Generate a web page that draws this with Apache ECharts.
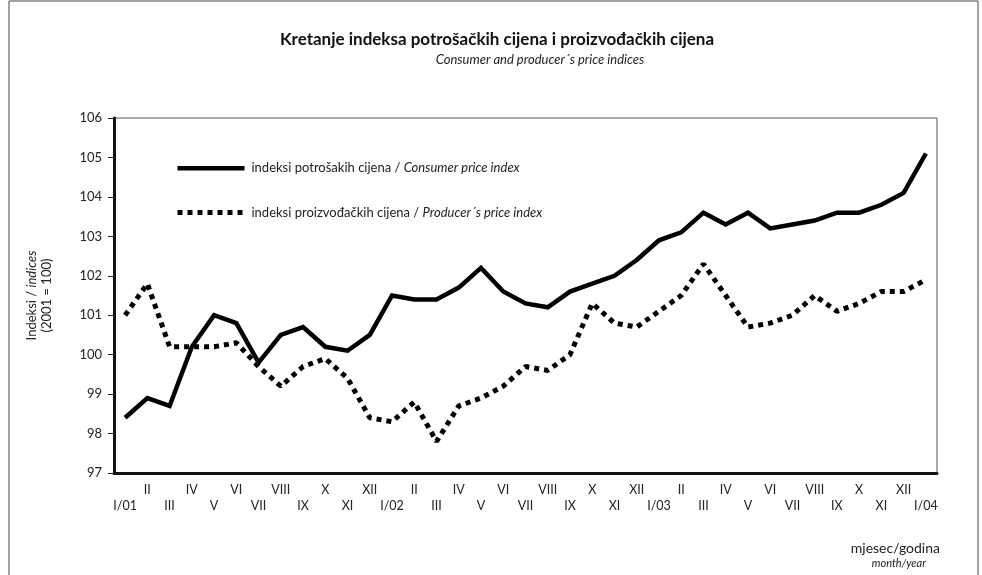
<!DOCTYPE html>
<html>
<head>
<meta charset="utf-8">
<script src="https://cdn.jsdelivr.net/npm/echarts@6/dist/echarts.min.js"></script>
<style>
  html, body { margin: 0; padding: 0; background: #fff; }
  #chart { width: 982px; height: 575px; }
</style>
</head>
<body>
<div id="chart"></div>
<script>
// months, I/01 .. I/04
var months = ['I/01', 'II', 'III', 'IV', 'V', 'VI', 'VII', 'VIII', 'IX', 'X', 'XI', 'XII',
  'I/02', 'II', 'III', 'IV', 'V', 'VI', 'VII', 'VIII', 'IX', 'X', 'XI', 'XII',
  'I/03', 'II', 'III', 'IV', 'V', 'VI', 'VII', 'VIII', 'IX', 'X', 'XI', 'XII',
  'I/04']

var consumerIdx = [98.4, 98.9, 98.7, 100.2, 101.0, 100.8, 99.8, 100.5, 100.7, 100.2, 100.1, 100.5,
  101.5, 101.4, 101.4, 101.7, 102.2, 101.6, 101.3, 101.2, 101.6, 101.8, 102.0, 102.4,
  102.9, 103.1, 103.6, 103.3, 103.6, 103.2, 103.3, 103.4, 103.6, 103.6, 103.8, 104.1,
  105.1]

var producerIdx = [101.0, 101.8, 100.2, 100.2, 100.2, 100.3, 99.7, 99.2, 99.7, 99.9, 99.4, 98.4,
  98.3, 98.8, 97.8, 98.7, 98.9, 99.2, 99.7, 99.6, 100.0, 101.3, 100.8, 100.7,
  101.1, 101.5, 102.3, 101.5, 100.7, 100.8, 101.0, 101.5, 101.1, 101.3, 101.6, 101.6,
  101.9]

var yTicks = [97, 98, 99, 100, 101, 102, 103, 104, 105, 106]

var seriesNames = ['indeksi potrošakih cijena', 'indeksi proizvođačkih cijena']
var seriesNamesEn = ['Consumer price index', 'Producer´s price index']

var font = 'Lato, "Open Sans", sans-serif'
var ink = '#111'

var solidLine = { color: '#000', width: 4.5, join: 'miter' }
var dotLine = { color: '#000', width: 5, type: [5, 5], cap: 'butt' }

var chart = echarts.init(document.getElementById('chart'))
chart.setOption({
  animation: false,
  textStyle: { fontFamily: font, color: ink },
  title: [
    {
      text: 'Kretanje indeksa potrošačkih cijena i proizvođačkih cijena',
      left: 497, top: 31, textAlign: 'center', padding: 0,
      textStyle: { fontFamily: font, fontSize: 17, fontWeight: 'bold', color: ink }
    },
    {
      text: 'Consumer and producer´s price indices',
      left: 540, top: 53, textAlign: 'center', padding: 0,
      textStyle: { fontFamily: font, fontSize: 13, fontStyle: 'italic', fontWeight: 'normal', color: '#222' }
    },
    {
      text: 'mjesec/godina',
      left: 940, top: 541, textAlign: 'right', padding: 0,
      textStyle: { fontFamily: font, fontSize: 14, fontWeight: 'normal', color: '#222' }
    },
    {
      text: 'month/year',
      left: 926, top: 558, textAlign: 'right', padding: 0,
      textStyle: { fontFamily: font, fontSize: 11, fontStyle: 'italic', fontWeight: 'normal', color: '#222' }
    }
  ],
  graphic: [
    {
      type: 'rect', silent: true,
      shape: { x: 9, y: 1, width: 969, height: 600 },
      style: { fill: 'none', stroke: '#444', lineWidth: 1 }
    }
  ],
  legend: {
    orient: 'vertical',
    left: 170, top: 156,
    itemWidth: 67, itemHeight: 18,
    itemGap: 30,
    data: [
      { name: seriesNames[0], lineStyle: solidLine },
      { name: seriesNames[1], lineStyle: dotLine }
    ],
    itemStyle: { color: 'rgba(0,0,0,0)', borderWidth: 0, opacity: 0 },
    formatter: function(name) {
      var i = seriesNames.indexOf(name)
      return name + ' / {i|' + seriesNamesEn[i] + '}'
    },
    textStyle: {
      fontFamily: font, fontSize: 13, color: '#222', padding: [0, 0, 0, 2],
      rich: { i: { fontFamily: font, fontSize: 13, fontStyle: 'italic', color: '#222' } }
    }
  },
  grid: {
    left: 114, right: 45, top: 118, bottom: 102,
    show: true, borderColor: '#555', borderWidth: 1
  },
  xAxis: {
    type: 'category',
    data: months,
    boundaryGap: true,
    axisLine: { lineStyle: { color: ink, width: 3 } },
    axisTick: { show: false },
    axisLabel: {
      interval: 0, margin: 9, lineHeight: 16,
      fontFamily: font, fontSize: 12.5, color: '#222',
      formatter: function(v, i) { return i % 2 ? v : '\n' + v }
    },
    splitLine: { show: false }
  },
  yAxis: {
    type: 'value',
    min: yTicks[0], max: yTicks[yTicks.length - 1], interval: 1,
    name: 'Indeksi / {i|indices}\n(2001 = 100)',
    nameLocation: 'middle', nameRotate: 90, nameGap: 60,
    nameTextStyle: {
      fontFamily: font, fontSize: 13, color: '#222', lineHeight: 15, align: 'center',
      rich: { i: { fontFamily: font, fontSize: 13, fontStyle: 'italic', color: '#222' } }
    },
    axisLine: { show: true, lineStyle: { color: ink, width: 3 } },
    axisTick: { show: true, length: 6, lineStyle: { color: '#222', width: 1 } },
    axisLabel: { margin: 12, fontFamily: font, fontSize: 13, color: '#222' },
    splitLine: { show: false }
  },
  series: [
    {
      name: seriesNames[0],
      type: 'line',
      data: consumerIdx,
      symbol: 'none',
      lineStyle: solidLine,
      itemStyle: { color: '#000' }
    },
    {
      name: seriesNames[1],
      type: 'line',
      data: producerIdx,
      symbol: 'none',
      lineStyle: dotLine,
      itemStyle: { color: '#000' }
    }
  ]
})
</script>
</body>
</html>
